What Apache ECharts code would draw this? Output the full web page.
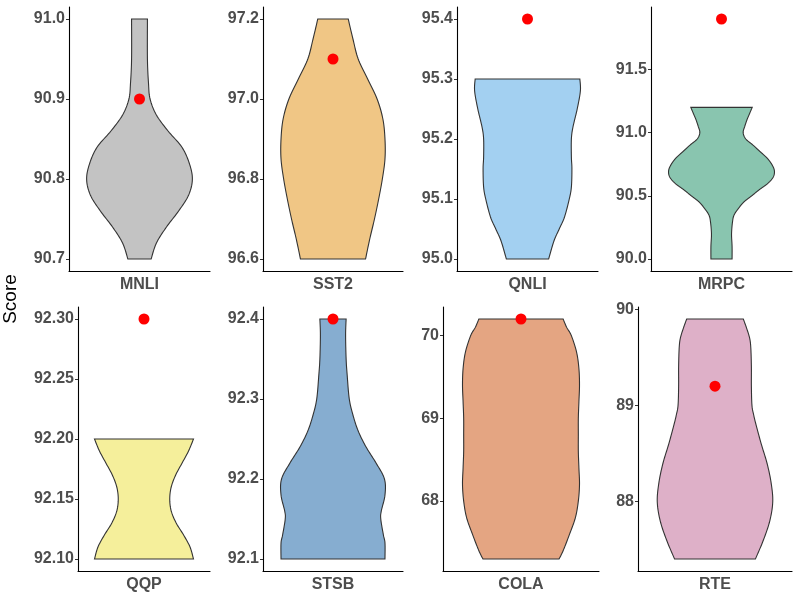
<!DOCTYPE html>
<html>
<head>
<meta charset="utf-8">
<script src="https://cdn.jsdelivr.net/npm/echarts@6/dist/echarts.min.js"></script>
<style>
  html, body { margin: 0; padding: 0; background: #fff; }
  #chart { width: 800px; height: 600px; }
</style>
</head>
<body>
<div id="chart"></div>
<script>
// task names, one panel each
var tasks = ['MNLI', 'SST2', 'QNLI', 'MRPC', 'QQP', 'STSB', 'COLA', 'RTE'];

// red point per task
var pointScore = [90.9, 97.1, 95.4, 91.9, 92.3, 92.4, 70.2, 89.2];

// violin outlines: [score, relative half width]
var violinMNLI = [[91.0,0.15],[90.95,0.15],[90.92,0.17],[90.9,0.2],[90.88,0.32],[90.86,0.54],[90.84,0.8],[90.82,0.94],
  [90.8,1.0],[90.78,0.93],[90.76,0.74],[90.74,0.51],[90.72,0.32],[90.7,0.22]];
var violinSST2 = [[97.2,0.29],[97.15,0.38],[97.1,0.48],[97.05,0.66],[97.0,0.84],[96.95,0.95],[96.9,0.99],[96.85,0.99],
  [96.8,0.94],[96.75,0.87],[96.7,0.79],[96.65,0.7],[96.6,0.62]];
var violinQNLI = [[95.3,0.99],[95.28,1.0],[95.25,0.94],[95.22,0.86],[95.2,0.83],[95.17,0.83],[95.15,0.84],[95.12,0.83],
  [95.1,0.79],[95.07,0.7],[95.05,0.6],[95.03,0.5],[95.0,0.4]];
var violinMRPC = [[91.2,0.58],[91.15,0.53],[91.1,0.48],[91.05,0.44],[91.0,0.41],[90.95,0.46],[90.9,0.6],[90.85,0.73],
  [90.8,0.86],[90.75,0.95],[90.7,1.0],[90.65,0.98],[90.6,0.88],[90.55,0.72],[90.5,0.57],[90.45,0.42],[90.4,0.32],
  [90.35,0.24],[90.3,0.21],[90.2,0.19],[90.1,0.2],[90.0,0.2]];
var violinQQP = [[92.2,1.0],[92.19,0.9],[92.18,0.77],[92.17,0.64],[92.16,0.55],[92.15,0.52],[92.14,0.55],[92.13,0.65],
  [92.12,0.8],[92.11,0.93],[92.1,1.0]];
var violinSTSB = [[92.4,0.25],[92.38,0.24],[92.35,0.25],[92.33,0.27],[92.3,0.31],[92.28,0.38],[92.26,0.48],[92.24,0.63],
  [92.22,0.82],[92.2,0.98],[92.18,0.99],[92.16,0.92],[92.15,0.91],[92.13,0.96],[92.12,0.99],[92.1,0.99]];
var violinCOLA = [[70.2,0.72],[70.1,0.78],[70.0,0.86],[69.8,0.95],[69.6,0.99],[69.4,1.0],[69.2,0.99],[69.0,0.98],
  [68.8,0.98],[68.6,0.98],[68.4,0.99],[68.2,1.0],[68.0,0.98],[67.8,0.93],[67.6,0.83],[67.4,0.72],[67.3,0.65]];
var violinRTE = [[89.9,0.49],[89.8,0.55],[89.7,0.6],[89.6,0.62],[89.4,0.63],[89.2,0.63],[89.0,0.64],[88.9,0.67],
  [88.8,0.71],[88.6,0.8],[88.4,0.9],[88.2,0.97],[88.0,1.0],[87.8,0.95],[87.6,0.84],[87.4,0.7]];
var violins = [violinMNLI, violinSST2, violinQNLI, violinMRPC, violinQQP, violinSTSB, violinCOLA, violinRTE];

// y axis ticks and ranges per panel
var yTicks = [
  [90.7, 90.8, 90.9, 91.0],
  [96.6, 96.8, 97.0, 97.2],
  [95.0, 95.1, 95.2, 95.3, 95.4],
  [90.0, 90.5, 91.0, 91.5],
  [92.10, 92.15, 92.20, 92.25, 92.30],
  [92.1, 92.2, 92.3, 92.4],
  [68, 69, 70],
  [88, 89, 90]
];
var yDecimals = [1, 1, 1, 1, 2, 1, 0, 0];
var yMin = [90.685, 96.57, 94.98, 89.905, 92.09, 92.085, 67.155, 87.275];
var yMax = [91.015, 97.23, 95.42, 91.995, 92.31, 92.415, 70.345, 90.025];

var fills = ['#C3C3C3', '#F0C685', '#A3D0F1', '#89C5AF', '#F5EF9B', '#86ADD0', '#E4A582', '#DEB0C8'];

// panel boxes [left, top, width, height]
var boxes = [
  [69, 7, 141, 264], [263, 7, 140, 264], [457, 7, 141, 264], [651, 7, 141, 264],
  [78, 307, 132, 264], [263, 307, 140, 264], [443, 307, 156, 264], [638, 307, 154, 264]
];

function catmull(pts, steps) {
  var out = [];
  var n = pts.length;
  for (var i = 0; i < n - 1; i++) {
    var p0 = pts[Math.max(i - 1, 0)], p1 = pts[i], p2 = pts[i + 1], p3 = pts[Math.min(i + 2, n - 1)];
    for (var s = 0; s < steps; s++) {
      var t = s / steps, t2 = t * t, t3 = t2 * t;
      var pt = [0, 0];
      for (var k = 0; k < 2; k++) {
        pt[k] = 0.5 * ((2 * p1[k]) + (-p0[k] + p2[k]) * t +
          (2 * p0[k] - 5 * p1[k] + 4 * p2[k] - p3[k]) * t2 +
          (-p0[k] + 3 * p1[k] - 3 * p2[k] + p3[k]) * t3);
      }
      out.push(pt);
    }
  }
  out.push(pts[n - 1]);
  return out;
}

function makeRender(profile, fill) {
  return function (params, api) {
    if (params.dataIndex !== 0) return;
    var cx = api.coord([0, profile[0][0]])[0];
    var half = api.size([1, 0])[0] * 0.375;
    var right = profile.map(function (p) {
      return [cx + p[1] * half, api.coord([0, p[0]])[1]];
    });
    var side = catmull(right, 10);
    var left = side.map(function (p) { return [2 * cx - p[0], p[1]]; }).reverse();
    return {
      type: 'polygon',
      shape: { points: side.concat(left) },
      style: { fill: fill, stroke: '#333333', lineWidth: 1.1 }
    };
  };
}

var chart = echarts.init(document.getElementById('chart'));

var grids = [], xAxes = [], yAxes = [], series = [];
for (let i = 0; i < tasks.length; i++) {
  var b = boxes[i];
  grids.push({ left: b[0], top: b[1], width: b[2], height: b[3] });
  xAxes.push({
    type: 'category',
    gridIndex: i,
    data: [tasks[i]],
    boundaryGap: true,
    axisLine: { lineStyle: { color: '#000', width: 1.1 } },
    axisTick: { alignWithLabel: true, length: 3, lineStyle: { color: '#333' } },
    axisLabel: { color: '#4D4D4D', fontWeight: 'bold', fontSize: 16, margin: 6, fontFamily: 'Liberation Sans' }
  });
  yAxes.push({
    type: 'value',
    gridIndex: i,
    min: yMin[i],
    max: yMax[i],
    splitLine: { show: false },
    axisLine: { show: true, lineStyle: { color: '#000', width: 1.1 } },
    axisTick: { show: true, length: 3, customValues: yTicks[i], lineStyle: { color: '#333' } },
    axisLabel: {
      customValues: yTicks[i],
      color: '#4D4D4D', fontWeight: 'bold', fontSize: 16, margin: 4, fontFamily: 'Liberation Sans',
      formatter: function (v) { return v.toFixed(yDecimals[i]); }
    }
  });
  series.push({
    type: 'custom',
    xAxisIndex: i,
    yAxisIndex: i,
    renderItem: makeRender(violins[i], fills[i]),
    data: violins[i].map(function (p) { return [0, p[0]]; }),
    encode: { x: 0, y: 1 },
    silent: true
  });
  series.push({
    type: 'scatter',
    xAxisIndex: i,
    yAxisIndex: i,
    data: [[0, pointScore[i]]],
    symbolSize: 11,
    itemStyle: { color: '#FF0000', opacity: 1 },
    z: 5
  });
}

chart.setOption({
  animation: false,
  backgroundColor: '#ffffff',
  grid: grids,
  xAxis: xAxes,
  yAxis: yAxes,
  series: series,
  graphic: [{
    type: 'text',
    x: 11,
    y: 299,
    rotation: Math.PI / 2,
    style: {
      text: 'Score',
      fontSize: 19,
      fontFamily: 'Liberation Sans',
      fill: '#000',
      textAlign: 'center',
      textVerticalAlign: 'middle'
    }
  }]
});
window.onresize = chart.resize;
</script>
</body>
</html>
